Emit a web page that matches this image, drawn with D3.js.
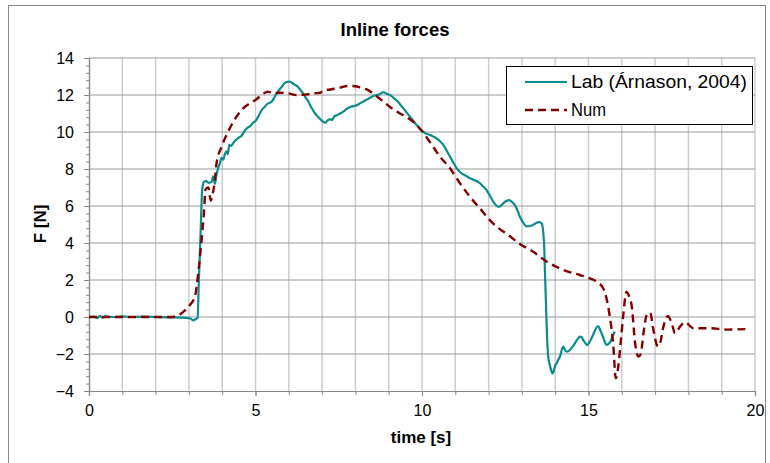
<!DOCTYPE html>
<html><head><meta charset="utf-8">
<script src="https://cdn.jsdelivr.net/npm/d3@7"></script>
<style>body{margin:0;background:#fff}svg{display:block}text{font-family:"Liberation Sans",Arial,sans-serif}</style>
</head><body>
<script>
const xTickValues = [0, 5, 10, 15, 20];
const yTickValues = [-4, -2, 0, 2, 4, 6, 8, 10, 12, 14];
const seriesNames = ["Lab (Árnason, 2004)", "Num"];

const labTime = [0,0.15,0.25,0.32,0.4,0.5,0.7,1.0,1.3,1.6,2.0,2.4,2.8,3.05,3.12,3.2,3.26,3.3,3.35,3.4,3.45,3.52,3.6,3.68,3.73,3.78,3.83,3.88,3.93,3.98,4.03,4.08,4.13,4.17,4.21,4.27,4.33,4.43,4.5,4.58,4.65,4.74,4.83,4.93,5.0,5.09,5.19,5.27,5.34,5.49,5.56,5.64,5.72,5.79,5.89,5.95,6.02,6.1,6.19,6.27,6.34,6.42,6.49,6.57,6.64,6.72,6.79,6.89,6.94,7.0,7.09,7.15,7.24,7.3,7.37,7.44,7.54,7.64,7.74,7.84,7.94,8.04,8.14,8.24,8.34,8.44,8.54,8.64,8.74,8.82,8.89,8.95,9.04,9.14,9.24,9.34,9.44,9.54,9.64,9.74,9.84,9.94,10.04,10.14,10.24,10.34,10.44,10.54,10.64,10.74,10.84,10.94,11.04,11.12,11.19,11.3,11.44,11.6,11.74,11.84,11.94,12.04,12.14,12.22,12.29,12.36,12.44,12.54,12.62,12.7,12.79,12.87,12.94,13.04,13.14,13.24,13.34,13.44,13.52,13.6,13.64,13.67,13.7,13.72,13.75,13.79,13.84,13.88,13.92,13.96,13.99,14.04,14.09,14.16,14.2,14.24,14.3,14.34,14.4,14.44,14.52,14.59,14.67,14.74,14.8,14.84,14.9,14.96,15.02,15.09,15.18,15.26,15.3,15.35,15.42,15.48,15.54,15.6,15.66,15.72,15.79];
const labForce = [0,0.02,-0.06,0.06,-0.03,0.03,0.0,0.03,0.0,0.02,0.0,-0.02,-0.03,-0.08,-0.18,-0.12,-0.05,2.0,4.5,6.9,7.3,7.35,7.25,7.3,7.6,7.2,7.7,8.05,8.3,8.6,8.5,8.8,8.95,8.8,9.3,9.25,9.4,9.6,9.7,9.8,10.0,10.2,10.3,10.5,10.6,10.85,11.2,11.35,11.5,11.65,11.85,12.1,12.3,12.45,12.67,12.7,12.73,12.65,12.55,12.45,12.3,12.1,11.9,11.7,11.45,11.2,11.0,10.8,10.7,10.6,10.5,10.6,10.7,10.65,10.85,10.9,11.0,11.1,11.25,11.35,11.4,11.45,11.55,11.65,11.75,11.85,11.95,12.0,12.05,12.15,12.12,12.05,12.0,11.85,11.7,11.5,11.28,11.05,10.83,10.6,10.38,10.15,10.0,9.9,9.84,9.75,9.65,9.5,9.3,9.0,8.67,8.35,8.05,7.88,7.77,7.65,7.5,7.38,7.23,7.05,6.86,6.55,6.23,6.05,5.96,6.0,6.14,6.28,6.32,6.22,6.05,5.75,5.42,5.1,4.9,4.92,4.98,5.1,5.13,5.03,4.6,3.8,2.0,0.9,-0.8,-2.14,-2.6,-2.9,-3.05,-2.9,-2.68,-2.5,-2.32,-2.05,-1.75,-1.6,-1.8,-1.87,-1.85,-1.78,-1.6,-1.42,-1.2,-1.06,-1.1,-1.24,-1.4,-1.51,-1.4,-1.15,-0.8,-0.52,-0.5,-0.7,-1.0,-1.3,-1.51,-1.45,-1.33,-1.05,-0.79];

const numTime = [0,0.5,1.0,1.5,2.0,2.43,2.63,2.83,3.03,3.18,3.28,3.38,3.45,3.5,3.58,3.66,3.72,3.78,3.83,3.98,4.13,4.28,4.43,4.63,4.83,5.03,5.18,5.38,5.53,5.73,5.98,6.23,6.53,6.74,6.93,7.04,7.24,7.49,7.79,8.0,8.14,8.34,8.59,8.84,9.09,9.34,9.59,9.84,10.09,10.24,10.54,10.84,11.14,11.44,11.74,11.99,12.24,12.54,12.94,13.34,13.74,14.24,14.74,15.04,15.24,15.44,15.54,15.64,15.74,15.82,15.9,15.96,16.04,16.14,16.2,16.3,16.4,16.5,16.57,16.65,16.75,16.85,16.95,17.08,17.15,17.25,17.38,17.5,17.6,17.75,17.9,18.15,18.65,19.15,19.75];
const numForce = [0,0,0,0,0,0,0.05,0.28,0.65,1.1,2.36,4.16,5.6,6.9,7.0,6.3,6.7,7.4,8.3,9.2,9.84,10.38,10.83,11.28,11.55,11.77,12.0,12.18,12.09,12.12,12.09,12.0,12.03,12.09,12.12,12.23,12.3,12.38,12.49,12.47,12.41,12.3,12.0,11.64,11.28,11.0,10.74,10.38,9.84,9.45,8.67,8.04,7.23,6.5,5.87,5.33,4.88,4.5,3.95,3.53,3.0,2.55,2.27,2.09,1.91,1.55,1.01,0.02,-1.42,-3.31,-2.6,-1.5,0.02,1.37,1.2,0.56,-1.42,-2.14,-2.0,-0.88,0.11,0.24,-0.7,-1.6,-1.42,-0.52,0.05,-0.34,-0.88,-0.52,-0.28,-0.61,-0.61,-0.68,-0.65];

const W = 770, H = 463;
const FONT = '"Liberation Sans",Arial,sans-serif';
const svg = d3.select("body").append("svg").attr("width", W).attr("height", H);

// outer frame
svg.append("rect").attr("x", 8.5).attr("y", 5.5).attr("width", 757).attr("height", 470)
  .attr("fill", "none").attr("stroke", "#888").attr("stroke-width", 1);

const x = d3.scaleLinear().domain([0, 20]).range([89, 755]);
const y = d3.scaleLinear().domain([-4, 14]).range([391, 58]);

// vertical gridlines
svg.append("g").selectAll("line").data(d3.range(1, 21)).join("line")
  .attr("x1", d => x(d)).attr("x2", d => x(d)).attr("y1", y(14)).attr("y2", y(-4))
  .attr("stroke", "#cdcdcd").attr("stroke-width", 1.5);
// horizontal gridlines
svg.append("g").selectAll("line").data(yTickValues.filter(v => v > -4)).join("line")
  .attr("x1", x(0)).attr("x2", x(20)).attr("y1", d => y(d)).attr("y2", d => y(d))
  .attr("stroke", "#9a9a9a").attr("stroke-width", 1);

// y axis
const yMinor = svg.append("g").attr("transform", `translate(${x(0)},0)`)
  .call(d3.axisLeft(y).tickValues(d3.range(-4, 14.01, 0.4)).tickSize(3).tickFormat(""));
const yAxis = svg.append("g").attr("transform", `translate(${x(0)},0)`)
  .call(d3.axisLeft(y).tickValues(yTickValues).tickSize(5).tickPadding(10).tickFormat(d3.format("d")));
// x axis
const xMinor = svg.append("g").attr("transform", `translate(0,${y(-4)})`)
  .call(d3.axisBottom(x).tickValues(d3.range(0, 21)).tickSize(4).tickFormat(""));
const xAxis = svg.append("g").attr("transform", `translate(0,${y(-4)})`)
  .call(d3.axisBottom(x).tickValues(xTickValues).tickSize(5).tickPadding(9).tickFormat(d3.format("d")));
[yMinor, yAxis, xMinor, xAxis].forEach(g => {
  g.selectAll("path").attr("stroke", "#888").attr("stroke-width", 1.2);
  g.selectAll("line").attr("stroke", "#888");
  g.selectAll("text").attr("font-size", 16).attr("fill", "#000").attr("font-family", FONT);
});

// lines
const line = d3.line().x(d => x(d[0])).y(d => y(d[1])).curve(d3.curveMonotoneX);
const labData = labTime.map((t, i) => [t, labForce[i]]);
const numData = numTime.map((t, i) => [t, numForce[i]]);
svg.append("path").datum(labData).attr("d", line).attr("fill", "none")
  .attr("stroke", "#0b8b8b").attr("stroke-width", 2.2).attr("stroke-linejoin", "round");
svg.append("path").datum(numData).attr("d", line).attr("fill", "none")
  .attr("stroke", "#800000").attr("stroke-width", 2.4).attr("stroke-dasharray", "8,5");

// title & labels
svg.append("text").attr("x", 395).attr("y", 36).attr("text-anchor", "middle")
  .attr("font-size", 18.5).attr("font-weight", "bold").text("Inline forces");
svg.append("text").attr("x", 421).attr("y", 443).attr("text-anchor", "middle")
  .attr("font-size", 17).attr("font-weight", "bold").text("time [s]");
svg.append("text").attr("transform", "translate(46,224) rotate(-90)").attr("text-anchor", "middle")
  .attr("font-size", 17).attr("font-weight", "bold").text("F [N]");

// legend
const lg = svg.append("g");
lg.append("rect").attr("x", 506.5).attr("y", 66.5).attr("width", 246).attr("height", 58)
  .attr("fill", "#fff").attr("stroke", "#000").attr("stroke-width", 1);
const styles = [{c: "#0b8b8b", d: null, w: 2.2, len: 176}, {c: "#800000", d: "8,5", w: 2.4, len: 35}];
seriesNames.forEach((n, i) => {
  const yy = 82 + i * 28;
  lg.append("line").attr("x1", 525).attr("x2", 567).attr("y1", yy).attr("y2", yy)
    .attr("stroke", styles[i].c).attr("stroke-width", styles[i].w).attr("stroke-dasharray", styles[i].d);
  lg.append("text").attr("x", 571).attr("y", yy + 6).attr("font-size", 17.5)
    .attr("textLength", styles[i].len).attr("lengthAdjust", "spacingAndGlyphs").text(n);
});
</script>
</body></html>
